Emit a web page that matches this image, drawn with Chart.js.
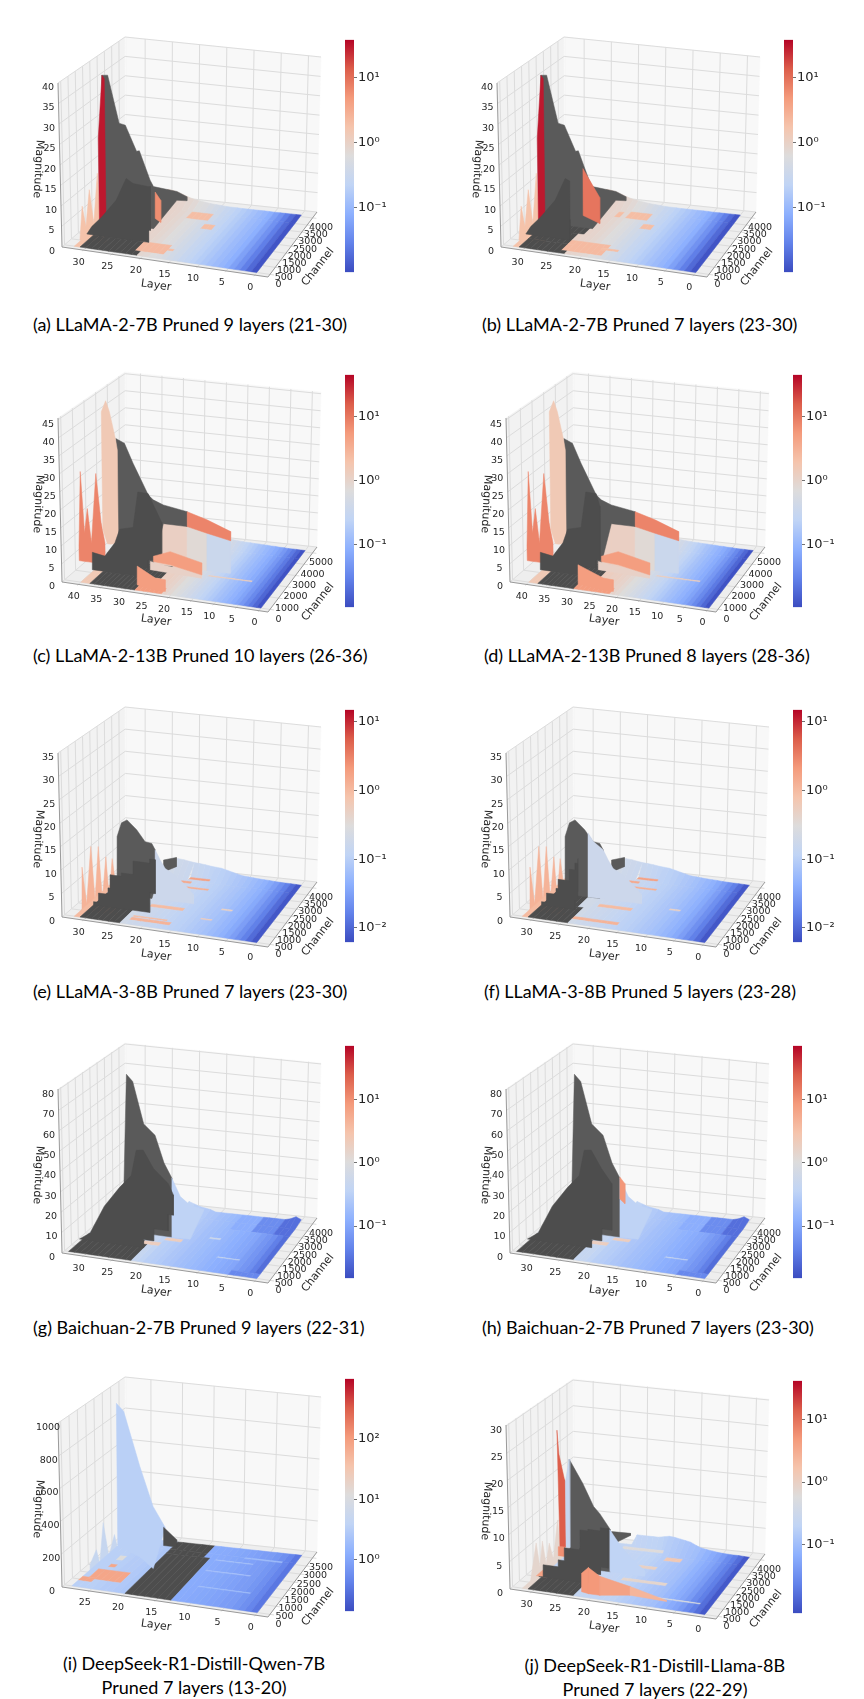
<!DOCTYPE html>
<html>
<head>
<meta charset="utf-8">
<title>Pruned layers</title>
<script src="https://cdn.jsdelivr.net/npm/chart.js@4"></script>
<style>
  html, body { margin: 0; background: #fff; }
  #page { position: relative; width: 864px; height: 1699px; overflow: hidden; }
  canvas { position: absolute; filter: blur(0.35px); }
  .cap { position: absolute; font-family: Lato, "Open Sans", sans-serif; font-size: 18px; color: #000; white-space: nowrap; line-height: 24px; }
</style>
</head>
<body>
<div id="page"></div>
<script>
const layerTicks = [0, 5, 10, 15, 20, 25, 30];
const layerTicksC = [0, 5, 10, 15, 20, 25, 30, 35, 40];
const layerTicksI = [0, 5, 10, 15, 20, 25];
const chanTicks = [0, 500, 1000, 1500, 2000, 2500, 3000, 3500, 4000];
const chanTicksC = [0, 1000, 2000, 3000, 4000, 5000];
const chanTicksI = [0, 500, 1000, 1500, 2000, 2500, 3000, 3500];
const magTicksA = [0, 5, 10, 15, 20, 25, 30, 35, 40];
const magTicksC = [0, 5, 10, 15, 20, 25, 30, 35, 40, 45];
const magTicksE = [0, 5, 10, 15, 20, 25, 30, 35];
const magTicksG = [0, 10, 20, 30, 40, 50, 60, 70, 80];
const magTicksI = [0, 200, 400, 600, 800, 1000];
const magTicksJ = [0, 5, 10, 15, 20, 25, 30];

// floor colour of every layer, read as magnitude on the colour bar
const tonesA = [.0118,.018,.027,.041,.057,.08,.095,.11,.13,.153,.18,.21,.25,.29,.35,.41,.48,.57,.62,.73,.8,.86,.9,.95,1,1,1,1,1,1,1.8,1.8];
const tonesC = [.012,.018,.026,.036,.05,.065,.08,.095,.11,.13,.15,.18,.21,.25,.3,.36,.43,.5,.6,.7,.85,1,1.1,1.2,1.2,1.3,1.3,1.4,1.4,1.4,1.4,1.4,1.4,1.4,1.4,1.4,1.4,1.4,1.6,1.6];
const tonesE = [.0075,.011,.016,.022,.03,.038,.046,.053,.06,.068,.075,.082,.09,.098,.105,.11,.12,.13,.14,.15,.16,.17,.18,.2,.2,.2,.2,.2,.2,.2,.2,1];
const tonesG = [.029,.0415,.058,.069,.082,.1,.105,.115,.125,.136,.15,.16,.175,.19,.2,.225,.24,.266,.29,.31,.37,.44,.44,.44,.44,.44,.44,.44,.44,.44,.44,.44,.44];
const tonesI = [.34,.47,.6,.7,.8,.82,.9,.95,1,1.05,1.1,1.15,1.17,1.2,1.3,1.4,1.5,1.6,1.8,2,2.6,2.8,3,3,3.2,3.4,3.4,3.4];
const tonesJ = [.0102,.0157,.022,.029,.041,.052,.062,.074,.088,.104,.113,.123,.134,.146,.159,.173,.189,.2,.2,.21,.21,.22,.22,.22,.22,.22,.22,.22,.22,.22,.22,.8];

// magnitude along the back edge of the surface, per layer
const hillA = [.05,.05,.05,.05,.05,.05,.1,.1,.1,.1,.1,.1,.15,.15,.2,.3,.4,.5,.7,.9,1.1,1.5,2,2.5,2.8,3];
const hillC = [.05,.05,.1,.1,.1,.2,.2,.3,.3,.4,.4,.5,.5,.6,.6,.7,.8,.9,1,1.2,1.4,1.7,2,2.3,2.5,2.7,2.9,3,3.1,3.2,3.3,3.4,3.4,3.5,3.5];
const hillE = [0,.05,.1,.1,.15,.2,.3,.35,.4,.5,.6,.7,1,1.3,1.6,1.9,2,2.1,2.3,2.4,2.5,2.7,2.9,3,3];
const hillG = [.8,2,.7,0,0,0,0,0,0,0,0,0,0,0,0,0,0,1,1.5,2,3,4];
const hillI = [0,0,0,0,0,0,0,0,0,0,0,0,0,0,0,0,0,0,0,0,0];
const hillJ = [0,.05,.1,.1,.15,.2,.3,.45,.6,.8,1.2,1.7,1.9,2.1,2.3,2.4,2.2,2,2,2,2,2];

// patches of the floor: layer from, layer to, channel from, channel to, tone
const patchesA = [[21.5,30.5,0,1000,'dark'],[23,31,1000,2000,'dark'],[15,18.5,3000,3500,2],[13,15,2400,2750,2],[17.3,21.5,300,1000,2.2],[16,17.3,600,750,2]];
const patchesB = [[23.5,30.5,0,700,'dark'],[24.5,31,700,1500,'dark'],[23,31,1500,2200,'dark'],[17.5,23.5,200,1000,2.2],[15.5,17.5,600,750,2],[15,19,3000,3500,2],[13,15,2400,2750,2],[20,21,3000,3400,2]];
const patchesC = [[27.9,38,0,1254,'dark'],[25,38,1254,2500,'dark'],[21.6,27.9,0,500,5],[6,16,2000,2100,1.4]];
const patchesD = [[29.6,38,0,1254,'dark'],[27,38,1254,2500,'dark'],[21.6,29.6,0,500,5],[6,16,2000,2100,1.4]];
const patchesE = [[23.6,31,0,2000,'dark'],[16,20,3650,3800,1.8],[18.8,21,3350,3500,1.5],[14.6,19.5,3000,3120,1.3],[16.5,22,1400,1600,1],[15.8,23,300,500,1.2],[17,22.5,550,650,1],[8,10,1800,1900,.5],[10,12,1000,1080,.6]];
const patchesF = [[24.5,31,0,1200,'dark'],[25,31,1200,2200,'dark'],[16,20,3650,3800,1.8],[18.8,21,3350,3500,1.5],[14.6,19.5,3000,3120,1.3],[16.5,22,1400,1600,1],[15.8,24,300,500,1.2],[8,10,1800,1900,.5]];
const patchesG = [[22.4,33,0,1500,'dark'],[20,23,1250,1500,2],[17,19.8,1700,1900,2],[0,3,3000,4096,.03],[3,7,3000,4096,.055],[7,11,3000,4096,.12],[0,5,0,300,.05],[5,9,1000,1060,.5],[11,13,2200,2300,.6]];
const patchesH = [[23.5,33,0,1500,'dark'],[20,23,1250,1500,2],[17,19.8,1700,1900,2],[0,3,3000,4096,.03],[3,7,3000,4096,.055],[7,11,3000,4096,.12],[0,5,0,300,.05],[5,9,1000,1060,.5]];
const patchesI = [[13.5,20.2,0,2800,'dark'],[14.5,20.2,2800,3584,'dark'],[22.5,27,600,1300,80],[26.5,28,400,700,80],[25,26,2000,2300,12],[25,26,1500,1700,80],[2,8,3000,3080,2],[5,12,2000,2060,2.2],[3,11,1000,1060,2],[6,12,2700,2750,2.4]];
const patchesJ = [[22.8,31,0,1500,'dark'],[30,31.5,1000,1500,4],[10.8,13.9,3200,3450,1.4],[15,23,3700,3900,.6],[14.2,17.5,2500,2700,1],[10,18,1500,1700,.8],[2,12,600,680,.5]];

// standing sheets of the surface: at one channel, magnitude against layer
const spikesA = {behind:true, ch:500, tone:1.8, layers:[32.2,31.7,31.1,30.4,29.7,28.95,28.5,27.5], tops:[0,8.4,3.5,12.7,4.6,17,4.8,4]};
const farA = {ch:2000, tone:'far', layers:[31.65,30.6,28.66,27.56,25.6,25.1,23.2,22.6,18.4,16.6], tops:[36.8,37,25.3,25,18.8,19,12,10.5,10,9], bottoms:[0,0,0,0,0,0,0,0,7.8,8]};
const redA = {ch:2000, tone:30, layers:[32.4,31.6,31.2], tops:[21,36.8,36]};
const orangeA = {ch:2000, tone:6, layers:[22.3,21.3], tops:[9.2,7.3], bottoms:[2.6,1.8]};
const nearA = {ch:1000, tone:'dark', stair:'bottom', layers:[32.2,31.3,29.5,26.9,25.1,23.9,21.2,20.85], tops:[0,2,4.7,9.3,15,14,13.7,13.8], bottoms:[0,0,0,0,0,0,3,6]};
const orangeB = {ch:2000, tone:9, layers:[24.3,21.3], tops:[14.7,8], bottoms:[3,1.5]};
const nearB = {ch:1000, tone:'dark', stair:'bottom', layers:[32.2,31.3,29.5,26.9,25.1,24.3], tops:[0,2,4.7,9.3,15,14.5], bottoms:[0,0,0,0,0,5]};

const spikesC = {behind:true, ch:627, tone:8, layers:[41.8,41.2,40.5,39.8,39,37.8,36.8,36], tops:[8,29,12,18.9,9.5,29,15.5,10], bottoms:[4,4,4,4,4,4,4,4]};
const farC = {ch:2502, tone:'far', layers:[37.95,36,34.1,30.7,29.6,27.3,21.9], tops:[34.3,33.2,27.8,19.3,18.1,17,15.9], bottoms:[0,0,0,0,0,11.7,11.7]};
const tallC = {ch:2502, tone:1.6, layers:[41.1,40.1,39.3,37.95,37.6], tops:[41.4,44.7,41.7,33.8,31], bottoms:[8,4,4,4.5,4.5]};
const slopeC = {ch:2502, tone:[1.2,1.2,.8,.35], layers:[29.6,27.3,21.9,17.4,12], tops:[18,11.7,11.7,10.5,9.2]};
const backC = {ch:2502, tone:8, layers:[21.9,17.4,12], tops:[15.9,14.3,11.8], bottoms:[11.7,10.5,9.2]};
const nearC = {ch:1254, tone:'dark', stair:'bottom', layers:[40.4,37.6,35.3,34.2,31.2,30.1,27.8,24.8], tops:[4.9,4.3,8.4,12.4,13.4,23.5,23.4,15.8], bottoms:[0,0,0,0,0,2.6,5,6.4]};
const nearD = {ch:1254, tone:'dark', stair:'bottom', layers:[40.4,37.6,35.3,34.2,31.2,30.1,27.8,27], tops:[4.9,4.3,8.4,12.4,13.4,23.5,23.4,20], bottoms:[0,0,0,0,0,2.6,5,6.4]};
const greyC = {ch:1783, tone:1.1, layers:[28.6,17], tops:[2.8,1], bottoms:[.5,0]};
const midC = {ch:1783, tone:5, layers:[27.9,24.1,16.9], tops:[4.4,6.3,4.3], bottoms:[2.9,2.6,.9]};
const frontC = {ch:247, tone:5, layers:[28,24,21.8], tops:[5.9,3.3,3.2], bottoms:[.7,0,0]};
const frontD = {ch:247, tone:5, layers:[29.6,24,21.8], tops:[6,3.3,3.2], bottoms:[.7,0,0]};

const spikesE = {behind:true, ch:502, tone:1.2, layers:[32,31.7,31,30.1,29.5,28.8,28.2,27.5,27,26.4,25.7], tops:[0,9.3,1.5,14,2.6,14.2,3,12.2,3.5,12,5]};
const farE = {ch:2002, tone:'far', layers:[29.1,28.3,27.3,25.6,24.1,22.9,22.3], tops:[12.6,15.7,16.5,14.6,12.2,12,10.7], bottoms:[0,0,0,0,0,0,2.6]};
const backE = {ch:2002, tone:'far', layers:[20.8,18.5], tops:[8.7,9.6], bottoms:[6.1,7.6]};
const blueE = {ch:2002, tone:.17, layers:[22.3,21.4,20.5,19.3,17.2,15.4], tops:[10.7,8.6,6.9,6.1,4.2,2]};
const nearE = {ch:1003, tone:'dark', stair:'both', layers:[31,30.1,28.4,28,26,23.9,21,20], tops:[.7,2.7,4.1,7,7.7,10.6,11.5,10], bottoms:[0,0,0,0,0,0,4.2,5.8]};
const blueF = {ch:2002, tone:.17, layers:[25,24,22.3,21.4,20.5,19.3,17.2,15.4], tops:[14,12.2,10.7,8.6,6.9,6.1,4.2,2]};
const nearF = {ch:1003, tone:'dark', stair:'both', layers:[31,30.1,28.4,28,26,25,24.5], tops:[.7,2.7,4,6,8.5,10,11], bottoms:[0,0,0,0,0,2,4]};

const farG = {ch:2002, tone:'far', layers:[27.9,27.3,26.2,24.3,22.3,20.7,19.3], tops:[23,79,75.7,55,50,36.6,29.5]};
const blueG = {ch:2002, tone:.35, layers:[19.3,17.8,16,13.6], tops:[29.5,20.8,17,15.7], bottoms:[0,0,0,15]};
const nearG = {ch:1003, tone:'dark', stair:'bottom', layers:[33.5,31.6,29,26.3,24.2,23.3,22.1,20.3,17.7,16.8], tops:[0,3.7,18,28.2,34.9,47.8,48.3,39.8,33.2,28], bottoms:[0,0,0,0,0,0,4,10,18,24]};
const orangeH = {ch:2002, tone:9, layers:[19.3,18.4], tops:[30,27], bottoms:[19,17]};
const wedgeH = {ch:2002, tone:6, layers:[28.3,27.4], tops:[7.4,7]};
const nearH = {ch:1003, tone:'dark', stair:'bottom', layers:[33.5,31.6,29,26.3,24.2,23.3,22.1,20.3,18.5], tops:[0,3.7,18,28.2,34.9,47.8,48.3,39.8,33], bottoms:[0,0,0,0,0,0,4,10,18]};

const bigI = {ch:1752, tone:3.4, layers:[25.1,24,21.6,19.6,17.8], tops:[1005,960,627,388,270], bottoms:[120,100,60,0,255]};
const darkI = {ch:3262, tone:'dark', layers:[21.5,19.4], tops:[117,46]};
const spikesI = {behind:true, ch:1047, tone:5, layers:[27.7,26.7,26.2,25.6,24.8,23.9,23.1,22], tops:[44,142,60,315,110,250,100,40]};

const spikesJ = {behind:true, ch:610, tone:.8, layers:[32,30.9,30.3,29.8,29.2,28.6,27.9,27.1,26.5], tops:[0,7.2,2.8,7.7,3.5,7.5,4.6,12,5.3]};
const farJ = {ch:2002, tone:'far', layers:[28.3,25.9,24,22.9,21], tops:[20.3,16,11.9,10.7,7.9]};
const redJ = {ch:2002, tone:14, layers:[30.4,30.1,29.2,29], tops:[25.5,21,16.5,16], bottoms:[25,3.5,3.6,3.6]};
const stripJ = {ch:2002, tone:.25, layers:[29,28.3], tops:[16,20.3], bottoms:[3.6,3.6]};
const smallJ = {ch:2002, tone:6, layers:[30.4,29.2], tops:[3.5,3.6], bottoms:[1.8,1.8]};
const backJ = {ch:2002, tone:'far', layers:[20.8,17.4], tops:[7.6,7.7], bottoms:[5.1,7.3]};
const blueJ = {ch:2002, tone:.2, layers:[21.1,19.3,17.2,14.8], tops:[7.9,5.3,3,1]};
const nearJ = {ch:1003, tone:'dark', stair:'both', layers:[31.5,30.7,28,26.9,24.2,24.1,22.7,20.5,19.1], tops:[0,2.3,3.6,6,6.3,9.7,10,10.6,10.7], bottoms:[0,0,0,0,0,0,1.9,3.3,5.2]};
const wedgeJ = {ch:276, tone:[5,5,4,2.5], layers:[22.2,21,19,13.7,7.3], tops:[3.6,4.8,3.5,2.4,.8], bottoms:[.2,0,0,.8,.6]};

// colour bar ranges and ticks
const barA = [.0102, 38], barTicksA = [10, 1, .1];
const barC = [.0107, 44.5], barTicksC = [10, 1, .1];
const barE = [.0062, 15], barTicksE = [10, 1, .1, .01];
const barG = [.015, 71], barTicksG = [10, 1, .1];
const barI = [.14, 1000], barTicksI = [100, 10, 1];
const barJ = [.0079, 42], barTicksJ = [10, 1, .1];

const coolwarm = ['#3b4cc0','#6282ea','#8db0fe','#c0d4f5','#dddcdc','#f5c4ac','#f49a7b','#dc5d4a','#b40426'];

const panels = [
  {cap:['(a) LLaMA-2-7B Pruned 9 layers (21-30)'], capX:33, capY:324, ox:0, oy:0, barX:345, barY:31, range:[-2.3,33.7], chanMax:4096, zTop:40, lt:layerTicks, ct:chanTicks, mt:magTicksA, tones:tonesA, hill:hillA, patches:patchesA, sheets:[spikesA,farA,redA,orangeA,nearA], bar:barA, bt:barTicksA},
  {cap:['(b) LLaMA-2-7B Pruned 7 layers (23-30)'], capX:482, capY:324, ox:439, oy:0, barX:784, barY:31, range:[-2.3,33.7], chanMax:4096, zTop:40, lt:layerTicks, ct:chanTicks, mt:magTicksA, tones:tonesA, hill:hillA, patches:patchesB, sheets:[spikesA,farA,redA,orangeB,nearB], bar:barA, bt:barTicksA},
  {cap:['(c) LLaMA-2-13B Pruned 10 layers (26-36)'], capX:33, capY:655, ox:0, oy:335, barX:345, barY:366, range:[-2,43.6], chanMax:5120, zTop:45.5, lt:layerTicksC, ct:chanTicksC, mt:magTicksC, tones:tonesC, hill:hillC, patches:patchesC, sheets:[spikesC,slopeC,farC,tallC,backC,nearC,greyC,midC,frontC], bar:barC, bt:barTicksC},
  {cap:['(d) LLaMA-2-13B Pruned 8 layers (28-36)'], capX:484, capY:655, ox:448, oy:335, barX:793, barY:366, range:[-2,43.6], chanMax:5120, zTop:45.5, lt:layerTicksC, ct:chanTicksC, mt:magTicksC, tones:tonesC, hill:hillC, patches:patchesD, sheets:[spikesC,slopeC,farC,tallC,backC,nearD,greyC,midC,frontD], bar:barC, bt:barTicksC},
  {cap:['(e) LLaMA-3-8B Pruned 7 layers (23-30)'], capX:33, capY:991, ox:0, oy:670, barX:345, barY:701, range:[-2.3,33.7], chanMax:4096, zTop:35, lt:layerTicks, ct:chanTicks, mt:magTicksE, tones:tonesE, hill:hillE, patches:patchesE, sheets:[spikesE,farE,backE,blueE,nearE], bar:barE, bt:barTicksE},
  {cap:['(f) LLaMA-3-8B Pruned 5 layers (23-28)'], capX:484, capY:991, ox:448, oy:670, barX:793, barY:701, range:[-2.3,33.7], chanMax:4096, zTop:35, lt:layerTicks, ct:chanTicks, mt:magTicksE, tones:tonesE, hill:hillE, patches:patchesF, sheets:[spikesE,farE,backE,blueF,nearF], bar:barE, bt:barTicksE},
  {cap:['(g) Baichuan-2-7B Pruned 9 layers (22-31)'], capX:33, capY:1327, ox:0, oy:1006, barX:345, barY:1037, range:[-2.3,33.7], chanMax:4096, zTop:80.5, lt:layerTicks, ct:chanTicks, mt:magTicksG, tones:tonesG, hill:hillG, patches:patchesG, sheets:[farG,blueG,nearG], bar:barG, bt:barTicksG},
  {cap:['(h) Baichuan-2-7B Pruned 7 layers (23-30)'], capX:482, capY:1327, ox:448, oy:1006, barX:793, barY:1037, range:[-2.3,33.7], chanMax:4096, zTop:80.5, lt:layerTicks, ct:chanTicks, mt:magTicksG, tones:tonesG, hill:hillG, patches:patchesH, sheets:[wedgeH,farG,blueG,orangeH,nearH], bar:barG, bt:barTicksG},
  {cap:['(i) DeepSeek-R1-Distill-Qwen-7B','Pruned 7 layers (13-20)'], capC:194, capY:1663, ox:0, oy:1340, barX:345, barY:1370, range:[-1.9,29.1], chanMax:3584, zTop:1000, lt:layerTicksI, ct:chanTicksI, mt:magTicksI, tones:tonesI, hill:hillI, patches:patchesI, sheets:[spikesI,bigI,darkI], bar:barI, bt:barTicksI},
  {cap:['(j) DeepSeek-R1-Distill-Llama-8B','Pruned 7 layers (22-29)'], capC:655, capY:1665, ox:448, oy:1342, barX:793, barY:1372, range:[-2.3,33.7], chanMax:4096, zTop:30.2, lt:layerTicks, ct:chanTicks, mt:magTicksJ, tones:tonesJ, hill:hillJ, patches:patchesJ, sheets:[spikesJ,farJ,redJ,stripJ,smallJ,backJ,blueJ,nearJ,wedgeJ], bar:barJ, bt:barTicksJ}
];

// box of the 3d axes inside each chart, in chart scale units
const floorBox = {a:[62,247], b:[268,277], c:[317,212], d:[125.7,192]};
const topBox = {a:[58,83], b:[272,109], c:[321,57], d:[125,37]};
const CHART_W = 345, CHART_H = 305;

function mix(p, q, t) { return p + (q - p) * t; }
function hexRgb(h) { return [1, 3, 5].map(i => parseInt(h.substr(i, 2), 16)); }

function colorOf(tone, bar) {
  if (tone === 'dark') return '#4d4d4d';
  if (tone === 'far') return '#5a5a5a';
  let f = (Math.log10(tone) - Math.log10(bar[0])) / (Math.log10(bar[1]) - Math.log10(bar[0]));
  f = Math.max(0, Math.min(1, f)) * (coolwarm.length - 1);
  const i = Math.min(coolwarm.length - 2, Math.floor(f));
  const a = hexRgb(coolwarm[i]), b = hexRgb(coolwarm[i + 1]);
  return 'rgb(' + a.map((c, k) => Math.round(mix(c, b[k], f - i))).join(',') + ')';
}

function bilinear(box, u, v, k) {
  const front = mix(box.a[k], box.b[k], u);
  const back = mix(box.d[k], box.c[k], u);
  return mix(front, back, v);
}

// axis space to chart units
function boxPoint(u, v, w) {
  return {
    x: mix(bilinear(floorBox, u, v, 0), bilinear(topBox, u, v, 0), w),
    y: mix(bilinear(floorBox, u, v, 1), bilinear(topBox, u, v, 1), w)
  };
}
function project(p, layer, ch, z) {
  const u = (p.range[1] - layer) / (p.range[1] - p.range[0]);
  const v = 0.04 + 0.89 * ch / p.chanMax;
  return boxPoint(u, v, z / p.zTop);
}

function polygon(points, color) {
  return {data: points.concat([points[0]]), fill: 'shape', backgroundColor: color, borderColor: color, borderWidth: 0.5, pointRadius: 0, tension: 0};
}
function stroke(points, color, width) {
  return {data: points, fill: false, borderColor: color, borderWidth: width, pointRadius: 0, tension: 0};
}

function boxDatasets(p) {
  const out = [];
  const w = p.zTop;
  out.push(polygon([boxPoint(0, 0, 0), boxPoint(0, 1, 0), boxPoint(0, 1, 1), boxPoint(0, 0, 1)], '#f2f2f2'));
  out.push(polygon([boxPoint(0, 1, 0), boxPoint(1, 1, 0), boxPoint(1, 1, 1), boxPoint(0, 1, 1)], '#f8f8f8'));
  out.push(polygon([boxPoint(0, 0, 0), boxPoint(1, 0, 0), boxPoint(1, 1, 0), boxPoint(0, 1, 0)], '#eeeeee'));
  const grid = '#dcdcdc';
  p.mt.forEach(z => {
    out.push(stroke([boxPoint(0, 0, z / w), boxPoint(0, 1, z / w), boxPoint(1, 1, z / w)], grid, 1));
  });
  p.lt.forEach(l => {
    const u = (p.range[1] - l) / (p.range[1] - p.range[0]);
    out.push(stroke([boxPoint(u, -0.02, 0), boxPoint(u, 1, 0), boxPoint(u, 1, 1)], grid, 1));
  });
  p.ct.forEach(c => {
    const v = 0.04 + 0.89 * c / p.chanMax;
    out.push(stroke([boxPoint(1.02, v, 0), boxPoint(0, v, 0), boxPoint(0, v, 1)], grid, 1));
  });
  out.push(stroke([boxPoint(0, 0, 1), boxPoint(0, 0, 0), boxPoint(1, 0, 0), boxPoint(1, 1, 0)], '#9a9a9a', 1));
  return out;
}

function floorDatasets(p) {
  const out = [];
  const hillAt = i => p.hill[i] || 0;
  for (let i = p.tones.length - 1; i >= 0; i--) {
    const active = p.patches.filter(q => i + .5 >= q[0] && i + .5 <= q[1]);
    const stops = [0, p.chanMax * .86, p.chanMax];
    active.forEach(q => { stops.push(q[2]); stops.push(q[3]); });
    const sorted = Array.from(new Set(stops)).sort((a, b) => b - a);
    for (let k = 0; k + 1 < sorted.length; k++) {
      const hi = sorted[k], lo = sorted[k + 1], mid = (hi + lo) / 2;
      let tone = p.tones[i];
      active.forEach(q => { if (mid >= q[2] && mid <= q[3]) tone = q[4]; });
      const zi = hi === p.chanMax ? hillAt(i) : 0;
      const zj = hi === p.chanMax ? hillAt(i + 1) : 0;
      out.push(polygon([project(p, i + 1, lo, 0), project(p, i, lo, 0), project(p, i, hi, zi), project(p, i + 1, hi, zj)], colorOf(tone, p.bar)));
    }
  }
  return out;
}

function sheetDatasets(p, behind) {
  const out = [];
  p.sheets.filter(s => !!s.behind === behind).forEach(s => {
    const low = j => (s.bottoms ? s.bottoms[j] : 0);
    if (Array.isArray(s.tone)) {
      s.tone.forEach((t, j) => {
        out.push(polygon([project(p, s.layers[j], s.ch, s.tops[j]), project(p, s.layers[j + 1], s.ch, s.tops[j + 1]), project(p, s.layers[j + 1], s.ch, low(j + 1)), project(p, s.layers[j], s.ch, low(j))], colorOf(t, p.bar)));
      });
    } else {
      const up = [], down = [];
      s.layers.forEach((l, j) => {
        up.push(project(p, l, s.ch, s.tops[j]));
        if (s.stair === 'both' && j + 1 < s.layers.length) up.push(project(p, s.layers[j + 1], s.ch, s.tops[j]));
        down.push(project(p, l, s.ch, low(j)));
        if (s.stair && j + 1 < s.layers.length) down.push(project(p, s.layers[j + 1], s.ch, low(j)));
      });
      out.push(polygon(up.concat(down.reverse()), colorOf(s.tone, p.bar)));
    }
  });
  return out;
}

function axisText(p) {
  return {
    id: 'axisText',
    afterDatasetsDraw(chart) {
      const ctx = chart.ctx, sx = chart.scales.x, sy = chart.scales.y;
      const put = (text, x, y, angle, size) => {
        ctx.save();
        ctx.translate(sx.getPixelForValue(x), sy.getPixelForValue(y));
        ctx.rotate(angle * Math.PI / 180);
        ctx.font = size + 'px "DejaVu Sans"';
        ctx.fillStyle = '#262626';
        ctx.textAlign = 'center';
        ctx.textBaseline = 'middle';
        ctx.fillText(text, 0, 0);
        ctx.restore();
      };
      p.lt.forEach(l => {
        const q = project(p, l, -p.chanMax * .045, 0);
        put(String(l), q.x - 4.5, q.y + 12, 0, 9.5);
      });
      p.ct.forEach(c => {
        const q = project(p, p.range[0], c, 0);
        put(String(c), q.x + 8.5, q.y + 10, 0, 9.5);
      });
      p.mt.forEach(z => {
        const q = boxPoint(0, 0, z / p.zTop);
        put(String(z), q.x - 10, q.y + 4.3, 0, 9.5);
      });
      put('Layer', 156, 285.5, 8, 11);
      put('Channel', 318, 267, -52, 11);
      put('Magnitude', 38, 169, 93, 11);
    }
  };
}

function drawPanel(p, page) {
  const canvas = document.createElement('canvas');
  canvas.width = CHART_W;
  canvas.height = CHART_H;
  canvas.style.left = p.ox + 'px';
  canvas.style.top = p.oy + 'px';
  page.appendChild(canvas);
  const layers = boxDatasets(p).concat(sheetDatasets(p, true), floorDatasets(p), sheetDatasets(p, false));
  new Chart(canvas, {
    type: 'line',
    data: {datasets: layers.reverse()},
    options: {
      responsive: false,
      animation: false,
      events: [],
      devicePixelRatio: 1,
      layout: {padding: 0},
      plugins: {legend: {display: false}, tooltip: {enabled: false}},
      scales: {
        x: {type: 'linear', display: false, min: 0, max: CHART_W},
        y: {type: 'linear', display: false, min: 0, max: CHART_H, reverse: true}
      }
    },
    plugins: [axisText(p)]
  });
}

function powerLabel(v) {
  const sup = {'-': '\u207b', '0': '\u2070', '1': '\u00b9', '2': '\u00b2', '3': '\u00b3'};
  const e = String(Math.round(Math.log10(v)));
  return '10' + e.split('').map(c => sup[c]).join('');
}

function drawBar(p, page) {
  const canvas = document.createElement('canvas');
  canvas.width = 60;
  canvas.height = 250;
  canvas.style.left = p.barX + 'px';
  canvas.style.top = p.barY + 'px';
  page.appendChild(canvas);
  new Chart(canvas, {
    type: 'bar',
    data: {
      labels: ['colour'],
      datasets: [{
        data: [p.bar],
        barPercentage: 1,
        categoryPercentage: 1,
        borderSkipped: false,
        backgroundColor(ctx) {
          const area = ctx.chart.chartArea;
          if (!area) return coolwarm[0];
          const g = ctx.chart.ctx.createLinearGradient(0, area.bottom, 0, area.top);
          coolwarm.forEach((c, i) => g.addColorStop(i / (coolwarm.length - 1), c));
          return g;
        }
      }]
    },
    options: {
      responsive: false,
      animation: false,
      events: [],
      devicePixelRatio: 1,
      layout: {padding: 0},
      plugins: {legend: {display: false}, tooltip: {enabled: false}},
      scales: {
        x: {display: false},
        y: {
          type: 'logarithmic',
          position: 'right',
          min: p.bar[0],
          max: p.bar[1],
          border: {display: false},
          grid: {drawOnChartArea: false, tickLength: 3, color: '#333', tickWidth: 0.7},
          afterBuildTicks(scale) { scale.ticks = p.bt.map(v => ({value: v, major: true})); },
          afterFit(scale) { scale.width = 51; },
          ticks: {
            autoSkip: false,
            padding: 1,
            color: '#222',
            font: {family: '"DejaVu Sans"', size: 13},
            callback: v => powerLabel(v)
          }
        }
      }
    }
  });
}

function drawCaption(p, page) {
  p.cap.forEach((line, i) => {
    const d = document.createElement('div');
    d.className = 'cap';
    d.textContent = line;
    d.style.top = (p.capY - 12 + i * 24) + 'px';
    page.appendChild(d);
    if (p.capC !== undefined) d.style.left = (p.capC - d.offsetWidth / 2) + 'px';
    else d.style.left = p.capX + 'px';
  });
}

const page = document.getElementById('page');
panels.forEach(p => {
  drawPanel(p, page);
  drawBar(p, page);
  drawCaption(p, page);
});
</script>
</body>
</html>
